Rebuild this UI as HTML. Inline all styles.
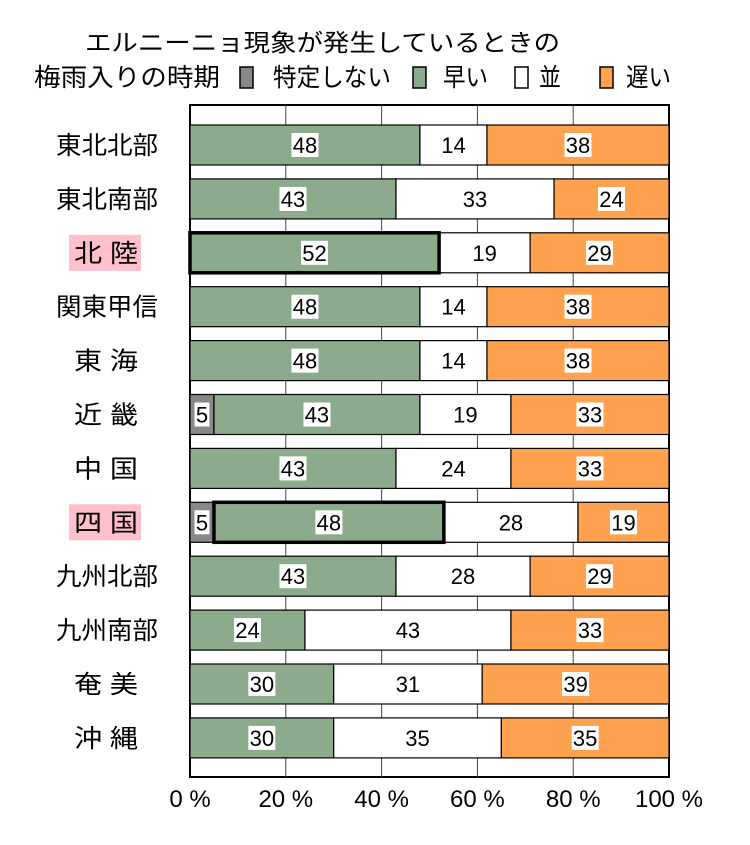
<!DOCTYPE html>
<html><head><meta charset="utf-8"><style>
body{margin:0;background:#fff;}
svg text{font-family:"Liberation Sans","Noto Sans CJK JP",sans-serif;}
</style></head><body>
<svg width="750" height="840" xmlns="http://www.w3.org/2000/svg">
<g>
<text x="85" y="51" font-size="24" textLength="475" lengthAdjust="spacingAndGlyphs">エルニーニョ現象が発生しているときの</text>
<text x="34" y="86" font-size="25" textLength="186" lengthAdjust="spacingAndGlyphs">梅雨入りの時期</text>
</g>
<g id="legend"></g>
<g id="grid"></g>
<g id="bars"></g>
<g id="labels"></g>
<g id="ticks"></g>
</svg>
<script>
const categories=["東北北部","東北南部","北 陸","関東甲信","東 海","近 畿","中 国","四 国","九州北部","九州南部","奄 美","沖 縄"];
const unspecified=[0,0,0,0,0,5,0,5,0,0,0,0];
const early=[48,43,52,48,48,43,43,48,43,24,30,30];
const normal=[14,33,19,14,14,19,24,28,28,43,31,35];
const late=[38,24,29,38,38,33,33,19,29,33,39,35];
const highlighted=[false,false,true,false,false,false,false,true,false,false,false,false];
const tickValues=[0,20,40,60,80,100];
const tickLabels=["0 %","20 %","40 %","60 %","80 %","100 %"];
const seriesNames=["特定しない","早い","並","遅い"];
const colors=["#888888","#8cab8c","#ffffff","#ffa24f"];
const NS="http://www.w3.org/2000/svg";
const X0=190,X1=669,PT=105,PB=777,ROW0=145,ROWSTEP=53.9,BH=40;
const xs=v=>X0+(X1-X0)*v/100;
const yc=i=>ROW0+ROWSTEP*i;
function mk(tag,attrs,parent){const e=document.createElementNS(NS,tag);for(const k in attrs)e.setAttribute(k,attrs[k]);parent.appendChild(e);return e;}
const lg=document.getElementById('legend');
const lx=[240,413,515,600],tx=[273,443,539,626],tw=[118,45,22,45];
seriesNames.forEach((n,i)=>{
 const r=mk('rect',{x:lx[i],y:67,width:13,height:21,fill:colors[i],stroke:'#000','stroke-width':1.5},lg);
 
 
 const t=mk('text',{x:tx[i],y:86,'font-size':25,textLength:tw[i],lengthAdjust:'spacingAndGlyphs'},lg);t.textContent=n;
 
 
});
const gg=document.getElementById('grid');
mk('rect',{x:X0,y:PT,width:X1-X0,height:PB-PT,fill:'#fff',stroke:'#000','stroke-width':2},gg);
tickValues.slice(1,-1).forEach(v=>{const l=mk('line',{x1:xs(v),x2:xs(v),y1:PT,y2:PB,stroke:'#444','stroke-width':1},gg);
 
 });
const bg=document.getElementById('bars');
const series=[unspecified,early,normal,late];
categories.forEach((c,i)=>{
 let acc=0;const y=yc(i)-BH/2;
 series.forEach((s,k)=>{
  const v=s[i];if(!v)return;
  const r=mk('rect',{x:xs(acc),y:y,width:xs(acc+v)-xs(acc),height:BH,fill:colors[k],stroke:'#000','stroke-width':1.2},bg);
  
  
  const cx=(xs(acc)+xs(acc+v))/2;
  const txt=String(v);
  if(k!==2){const w=txt.length*12+3;mk('rect',{x:cx-w/2,y:yc(i)-12,width:w,height:24,fill:'#fff'},bg);}
  const t=mk('text',{x:cx,y:yc(i)+8,'font-size':22,'text-anchor':'middle'},bg);t.textContent=txt;
  
  
  acc+=v;
 });
 if(highlighted[i]){
  const hb=mk('rect',{x:xs(unspecified[i]),y:y,width:xs(unspecified[i]+early[i])-xs(unspecified[i]),height:BH,fill:'none',stroke:'#000','stroke-width':3.5},bg);
  
  
 }
});
const cg=document.getElementById('labels');
categories.forEach((c,i)=>{
 if(highlighted[i]){const hr=mk('rect',{x:69,y:yc(i)-18,width:72,height:36,fill:'#ffc0cb'},cg);
  
  }
 const t=mk('text',{x:56,y:yc(i)+9,'font-size':25,textLength:102,lengthAdjust:'spacingAndGlyphs'},cg);t.textContent=c;
 if(c.indexOf(' ')>=0){t.setAttribute('x',74);t.setAttribute('textLength',64);}
 
 
});
const tg=document.getElementById('ticks');
tickValues.forEach((v,i)=>{const t=mk('text',{x:xs(v),y:807,'font-size':24,'text-anchor':'middle'},tg);t.textContent=tickLabels[i];
 
 });
</script>
</body></html>
